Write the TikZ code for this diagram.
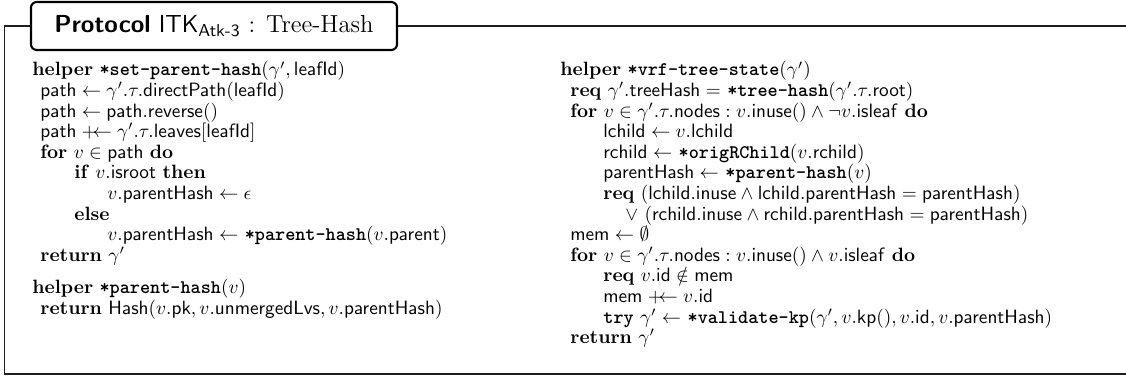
\documentclass[tikz,border=0pt]{standalone}
\usepackage{amsmath,amssymb}

\newcommand{\ttb}[1]{\texttt{\textbf{#1}}}
\newcommand{\ms}[1]{\mathsf{#1}}
\newcommand{\pgets}{\mathrel{+\!\!\!\gets}}

\begin{document}
\begin{tikzpicture}[x=0.519pt, y=-0.519pt, ln/.style={anchor=base west, inner sep=0pt}]
        \definecolor{framegrey}{RGB}{30,30,30}
        \useasboundingbox (0,0) rectangle (1126,376);

        \draw[framegrey, line width=0.8pt] (1140,26) -- (4.5,26) -- (4.5,374) -- (1140,374);
        \node[draw, line width=1.1pt, rounded corners=3pt, fill=white, minimum width=190pt, minimum height=24.9pt] (title) at (214,26)
            {\fontsize{12.8}{15}\selectfont\textsf{\textbf{Protocol} ITK}$_{\textsf{Atk-3}}$ : Tree-Hash};

         % left column
         \node[ln] (l1) at (32,76) {\textbf{helper} \ttb{*set-parent-hash}$(\gamma', \ms{leafId})$};
         \node[ln] (l2) at (40,96.6) {$\ms{path} \gets \gamma'.\tau.\ms{directPath}(\ms{leafId})$};
         \node[ln] (l3) at (40,117.2) {$\ms{path} \gets \ms{path.reverse}()$};
         \node[ln] (l4) at (40,137.8) {$\ms{path} \pgets \gamma'.\tau.\ms{leaves}[\ms{leafId}]$};
         \node[ln] (l5) at (40,158.4) {\textbf{for} $v \in \ms{path}$ \textbf{do}};
         \node[ln] (l6) at (74,179) {\textbf{if} $v.\ms{isroot}$ \textbf{then}};
         \node[ln] (l7) at (107,199.6) {$v.\ms{parentHash} \gets \epsilon$};
         \node[ln] (l8) at (74,220.2) {\textbf{else}};
         \node[ln] (l9) at (107,240.8) {$v.\ms{parentHash} \gets$ \ttb{*parent-hash}$(v.\ms{parent})$};
         \node[ln] (l10) at (40,261.4) {\textbf{return} $\gamma'$};

         \node[ln] (l11) at (32,294) {\textbf{helper} \ttb{*parent-hash}$(v)$};
         \node[ln] (l12) at (40,314.6) {\textbf{return} $\ms{Hash}(v.\ms{pk}, v.\ms{unmergedLvs}, v.\ms{parentHash})$};

         % right column
         \node[ln] (r1) at (560,76) {\textbf{helper} \ttb{*vrf-tree-state}$(\gamma')$};
         \node[ln] (r2) at (570,96.6) {\textbf{req} $\gamma'.\ms{treeHash} =$ \ttb{*tree-hash}$(\gamma'.\tau.\ms{root})$};
         \node[ln] (r3) at (570,117.2) {\textbf{for} $v \in \gamma'.\tau.\ms{nodes} : v.\ms{inuse}() \land \neg v.\ms{isleaf}$ \textbf{do}};
         \node[ln] (r4) at (603,137.8) {$\ms{lchild} \gets v.\ms{lchild}$};
         \node[ln] (r5) at (603,158.4) {$\ms{rchild} \gets$ \ttb{*origRChild}$(v.\ms{rchild})$};
         \node[ln] (r6) at (603,179) {$\ms{parentHash} \gets$ \ttb{*parent-hash}$(v)$};
         \node[ln] (r7) at (603,199.6) {\textbf{req} $(\ms{lchild.inuse} \land \ms{lchild.parentHash} = \ms{parentHash})$};
         \node[ln] (r8) at (625,220.2) {$\lor\ (\ms{rchild.inuse} \land \ms{rchild.parentHash} = \ms{parentHash})$};
         \node[ln] (r9) at (570,240.8) {$\ms{mem} \gets \emptyset$};
         \node[ln] (r10) at (570,261.4) {\textbf{for} $v \in \gamma'.\tau.\ms{nodes} : v.\ms{inuse}() \land v.\ms{isleaf}$ \textbf{do}};
         \node[ln] (r11) at (603,282) {\textbf{req} $v.\ms{id} \notin \ms{mem}$};
         \node[ln] (r12) at (603,302.6) {$\ms{mem} \pgets v.\ms{id}$};
         \node[ln] (r13) at (603,323.2) {\ttb{try} $\gamma' \gets$ \ttb{*validate-kp}$(\gamma', v.\ms{kp}(), v.\ms{id}, v.\ms{parentHash})$};
         \node[ln] (r14) at (570,343.8) {\textbf{return} $\gamma'$};

    \end{tikzpicture}
\end{document}
